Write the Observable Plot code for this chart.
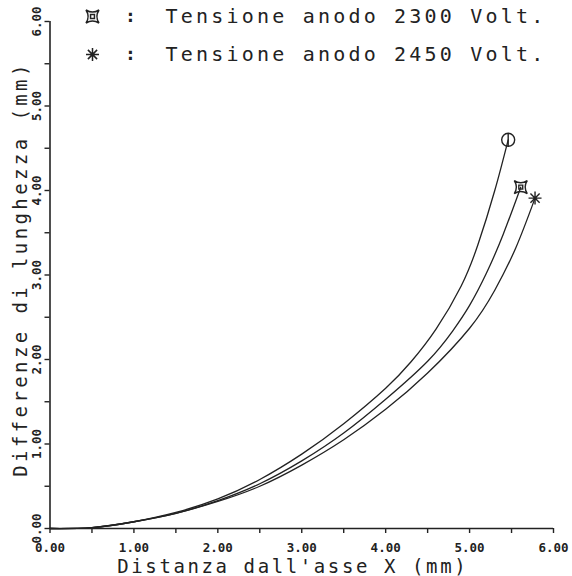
<!DOCTYPE html>
<html>
<head>
<meta charset="utf-8">
<script src="https://cdn.jsdelivr.net/npm/d3@7"></script>
<script src="https://cdn.jsdelivr.net/npm/@observablehq/plot@0.6"></script>
<style>
  html, body { margin: 0; padding: 0; background: #fff; }
  #chart { width: 572px; height: 576px; }
</style>
</head>
<body>
<div id="chart"></div>
<script>
// --- Data ---
// Curve ending with circle marker (no legend entry)
const circleX = [0, 0.5, 1.0, 1.5, 2.0, 2.5, 3.0, 3.5, 4.0, 4.3, 4.6, 4.9, 5.1, 5.3, 5.46];
const circleY = [0, 0.01, 0.08, 0.19, 0.35, 0.58, 0.88, 1.24, 1.66, 1.97, 2.36, 2.87, 3.36, 4.0, 4.6];
// Tensione anodo 2300 Volt.
const v2300X = [0, 0.5, 1.0, 1.5, 2.0, 2.5, 3.0, 3.5, 4.0, 4.5, 4.8, 5.0, 5.2, 5.4, 5.61];
const v2300Y = [0, 0.01, 0.08, 0.18, 0.33, 0.53, 0.8, 1.13, 1.53, 1.98, 2.34, 2.64, 3.02, 3.48, 4.04];
// Tensione anodo 2450 Volt.
const v2450X = [0, 0.5, 1.0, 1.5, 2.0, 2.5, 3.0, 3.5, 4.0, 4.5, 5.0, 5.3, 5.55, 5.78];
const v2450Y = [0, 0.01, 0.08, 0.18, 0.32, 0.5, 0.75, 1.05, 1.41, 1.84, 2.37, 2.82, 3.32, 3.91];

const legendLabels = ["Tensione anodo 2300 Volt.", "Tensione anodo 2450 Volt."];
const xTitle = "Distanza dall'asse X (mm)";
const yTitle = "Differenze di lunghezza (mm)";
const majorTicks = [0, 1, 2, 3, 4, 5, 6];
const minorTicks = [0, 0.5, 1, 1.5, 2, 2.5, 3, 3.5, 4, 4.5, 5, 5.5, 6];

// --- custom plotter-like symbols ---
const symCircleBar = {
  draw(ctx, size) {
    const r = Math.sqrt(size / Math.PI);
    ctx.moveTo(r, 0);
    ctx.arc(0, 0, r, 0, 2 * Math.PI);
    ctx.moveTo(0, -r * 0.95);
    ctx.lineTo(0, r * 0.95);
  }
};
const symAstroid = {
  draw(ctx, size) {
    const r = Math.sqrt(size / Math.PI);
    const k = r * 0.35;
    ctx.moveTo(-r, -r);
    ctx.quadraticCurveTo(0, -k, r, -r);
    ctx.quadraticCurveTo(k, 0, r, r);
    ctx.quadraticCurveTo(0, k, -r, r);
    ctx.quadraticCurveTo(-k, 0, -r, -r);
    ctx.closePath();
    const s = r * 0.3;
    ctx.moveTo(-s, -s); ctx.lineTo(s, -s); ctx.lineTo(s, s); ctx.lineTo(-s, s); ctx.closePath();
  }
};
const symStar8 = {
  draw(ctx, size) {
    const r = Math.sqrt(size / Math.PI);
    for (let i = 0; i < 4; i++) {
      const a = i * Math.PI / 4;
      ctx.moveTo(-r * Math.cos(a), -r * Math.sin(a));
      ctx.lineTo(r * Math.cos(a), r * Math.sin(a));
    }
  }
};

const toRows = (xs, ys, name) => xs.map((x, i) => ({x, y: ys[i], name}));
const curves = [
  ...toRows(circleX, circleY, "c"),
  ...toRows(v2300X, v2300Y, "2300"),
  ...toRows(v2450X, v2450Y, "2450")
];
const ends = [
  {x: circleX.at(-1), y: circleY.at(-1), s: symCircleBar},
  {x: v2300X.at(-1), y: v2300Y.at(-1), s: symAstroid},
  {x: v2450X.at(-1), y: v2450Y.at(-1), s: symStar8}
];

const ink = "#222";
const mono = "'DejaVu Sans Mono', 'Liberation Mono', monospace";

const chart = Plot.plot({
  width: 572,
  height: 576,
  marginLeft: 49.5,
  marginRight: 19,
  marginTop: 21,
  marginBottom: 48,
  style: {fontFamily: mono, background: "#fff", color: ink, overflow: "visible"},
  x: {domain: [0, 6], axis: null},
  y: {domain: [0, 6], axis: null},
  marks: [
    // axis lines
    Plot.ruleX([0], {stroke: ink, strokeWidth: 1.6}),
    Plot.ruleY([0], {stroke: ink, strokeWidth: 1.6}),
    // ticks
    Plot.axisX(minorTicks, {tickSize: 5, tickFormat: () => "", label: null, stroke: ink, strokeWidth: 1.4}),
    Plot.axisY(minorTicks, {tickSize: 5, tickFormat: () => "", label: null, stroke: ink, strokeWidth: 1.4}),
    // tick labels
    Plot.text(majorTicks, {
      x: d => d, frameAnchor: "bottom", dy: 19, text: d => d3.format(".2f")(d),
      fontSize: 12.5, fontWeight: "bold", fill: ink, lineAnchor: "middle", textAnchor: "middle"
    }),
    Plot.text(majorTicks, {
      y: d => d, frameAnchor: "left", dx: -13, rotate: -90, text: d => d3.format(".2f")(d),
      fontSize: 12.5, fontWeight: "bold", fill: ink, lineAnchor: "middle", textAnchor: "middle"
    }),
    // axis titles
    Plot.text([xTitle], {
      frameAnchor: "bottom", dx: -9, dy: 38, text: d => d, fontSize: 19,
      fill: ink, lineAnchor: "middle", textAnchor: "middle", className: "spacedx"
    }),
    Plot.text([yTitle], {
      frameAnchor: "left", dx: -29, dy: -6, rotate: -90, text: d => d, fontSize: 19,
      fill: ink, lineAnchor: "middle", textAnchor: "middle", className: "spacedy"
    }),
    // curves
    Plot.line(curves, {x: "x", y: "y", z: "name", curve: "natural", stroke: ink, strokeWidth: 1.3}),
    // end markers
    ...ends.map(e => Plot.dot([e], {x: "x", y: "y", r: 6.5, symbol: e.s, stroke: ink, strokeWidth: 1.4, fill: "none"})),
    // legend
    Plot.dot([0], {frameAnchor: "top-left", dx: 42.5, dy: -5, r: 6.5, symbol: symAstroid, stroke: ink, strokeWidth: 1.5, fill: "none"}),
    Plot.dot([0], {frameAnchor: "top-left", dx: 42.5, dy: 33, r: 6.5, symbol: symStar8, stroke: ink, strokeWidth: 1.5, fill: "none"}),
    ...legendLabels.map((t, i) => Plot.text([":"], {
      frameAnchor: "top-left", dx: 80.5, dy: -5 + 38 * i, text: d => d, fontSize: 18, fontWeight: "bold",
      fill: ink, textAnchor: "middle", lineAnchor: "middle"
    })),
    ...legendLabels.map((t, i) => Plot.text([t], {
      frameAnchor: "top-left", dx: 115.5, dy: -5 + 38 * i, text: d => d, fontSize: 20,
      fill: ink, textAnchor: "start", lineAnchor: "middle", className: "legendtext"
    }))
  ]
});
document.getElementById("chart").append(chart);

// plotter-like letter spacing
d3.select(chart).selectAll(".legendtext text").style("letter-spacing", "3.2px");
d3.select(chart).selectAll(".spacedx text").style("letter-spacing", "2.6px");
d3.select(chart).selectAll(".spacedy text").style("letter-spacing", "3.4px");
</script>
</body>
</html>
